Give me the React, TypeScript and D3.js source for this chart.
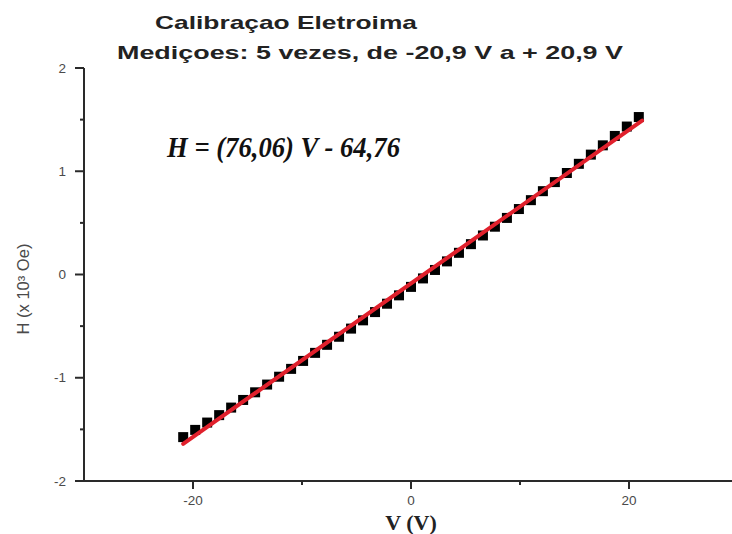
import React from "react";
import * as d3 from "d3";

const titleLines = ["Calibraçao Eletroima", "Mediçoes: 5 vezes, de -20,9 V a + 20,9 V"];
const equationText = "H = (76,06) V - 64,76";
const xLabel = "V (V)";
const yLabel = "H (x 10³ Oe)";

const voltage = [
  -20.9, -19.8, -18.7, -17.6, -16.5, -15.4, -14.3, -13.2, -12.1, -11.0, -9.9, -8.8, -7.7,
  -6.6, -5.5, -4.4, -3.3, -2.2, -1.1, 0, 1.1, 2.2, 3.3, 4.4, 5.5, 6.6, 7.7, 8.8, 9.9, 11.0,
  12.1, 13.2, 14.3, 15.4, 16.5, 17.6, 18.7, 19.8, 20.9,
];
const field = [
  -1.575, -1.505, -1.434, -1.362, -1.289, -1.215, -1.141, -1.066, -0.99, -0.914, -0.837,
  -0.759, -0.681, -0.603, -0.524, -0.444, -0.364, -0.283, -0.202, -0.12, -0.038, 0.044,
  0.127, 0.21, 0.294, 0.378, 0.463, 0.548, 0.634, 0.72, 0.807, 0.895, 0.983, 1.072, 1.161,
  1.251, 1.342, 1.433, 1.525,
];
const fitV = [-20.9, 21.2];
const fitH = [-1.64, 1.49];

const xMajorTicks = [-20, 0, 20];
const xMinorTicks = [-10, 10];
const yMajorTicks = [2, 1, 0, -1, -2];
const yMinorTicks = [1.5, 0.5, -0.5, -1.5];

export default function App() {
  const W = 732;
  const H = 534;
  const x = d3.scaleLinear().domain([-30, 30]).range([84, 738]);
  const y = d3.scaleLinear().domain([-2, 2]).range([481, 68]);
  const axisColor = "#2a2a2a";
  const tickText = "#4a4a4a";
  const sq = 10;

  const line = d3
    .line<number>()
    .x((_, i) => x(fitV[i]))
    .y((_, i) => y(fitH[i]));

  return (
    <svg
      width={W}
      height={H}
      style={{ position: "fixed", left: 0, top: 0, background: "#fff" }}
      fontFamily="'Liberation Sans', Arial, sans-serif"
    >
      <rect x={0} y={0} width={W} height={H} fill="#fff" />
      {/* title */}
      <text
        x={155}
        y={29}
        fontSize={19}
        fontWeight="bold"
        fill="#222"
        textLength={262}
        lengthAdjust="spacingAndGlyphs"
      >
        {titleLines[0]}
      </text>
      <text
        x={117}
        y={59}
        fontSize={19}
        fontWeight="bold"
        fill="#222"
        textLength={506}
        lengthAdjust="spacingAndGlyphs"
      >
        {titleLines[1]}
      </text>

      {/* axes */}
      <line x1={x(-30)} x2={W} y1={y(-2)} y2={y(-2)} stroke={axisColor} strokeWidth={2} />
      <line x1={x(-30)} x2={x(-30)} y1={y(2)} y2={y(-2) + 1} stroke={axisColor} strokeWidth={2} />
      {yMajorTicks.map((t) => (
        <g key={"ym" + t}>
          <line x1={x(-30) - 9} x2={x(-30)} y1={y(t)} y2={y(t)} stroke={axisColor} strokeWidth={2} />
          <text x={x(-30) - 18} y={y(t)} dy="0.35em" textAnchor="end" fontSize={13.5} fill={tickText}>
            {t}
          </text>
        </g>
      ))}
      {yMinorTicks.map((t) => (
        <line key={"yn" + t} x1={x(-30) - 4} x2={x(-30)} y1={y(t)} y2={y(t)} stroke={axisColor} strokeWidth={2} />
      ))}
      {xMajorTicks.map((t) => (
        <g key={"xm" + t}>
          <line x1={x(t)} x2={x(t)} y1={y(-2)} y2={y(-2) + 8} stroke={axisColor} strokeWidth={2} />
          <text x={x(t)} y={y(-2) + 23.5} textAnchor="middle" fontSize={13.5} fill={tickText}>
            {t}
          </text>
        </g>
      ))}
      {xMinorTicks.map((t) => (
        <line key={"xn" + t} x1={x(t)} x2={x(t)} y1={y(-2)} y2={y(-2) + 4} stroke={axisColor} strokeWidth={2} />
      ))}

      {/* axis labels */}
      <text
        x={411}
        y={530}
        textAnchor="middle"
        fontSize={22}
        fontWeight="bold"
        fontFamily="'Liberation Serif', 'Times New Roman', serif"
        fill="#222"
      >
        {xLabel}
      </text>
      <text
        transform={`translate(29, 289) rotate(-90)`}
        textAnchor="middle"
        fontSize={16.5}
        fill={tickText}
      >
        {yLabel}
      </text>

      {/* data */}
      {voltage.map((v, i) => (
        <rect
          key={"p" + i}
          x={x(v) - sq / 2}
          y={y(field[i]) - sq / 2}
          width={sq}
          height={sq}
          fill="#000"
        />
      ))}
      <path d={line(fitV) || ""} fill="none" stroke="#e0202c" strokeWidth={4} strokeLinecap="round" />

      {/* equation */}
      <text
        x={167}
        y={157}
        fontSize={30}
        fontWeight="bold"
        fontStyle="italic"
        fontFamily="'Liberation Serif', 'Times New Roman', serif"
        fill="#111"
        textLength={233}
        lengthAdjust="spacingAndGlyphs"
      >
        {equationText}
      </text>
    </svg>
  );
}
